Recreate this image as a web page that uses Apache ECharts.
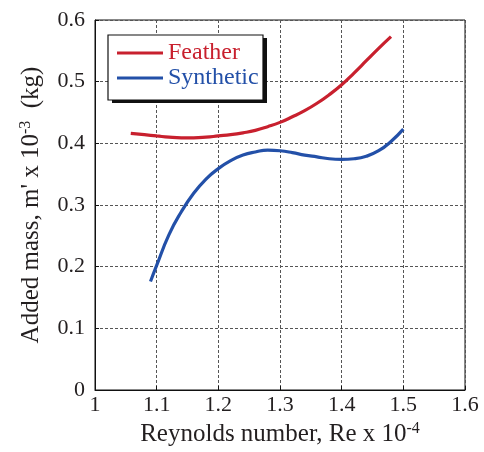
<!DOCTYPE html>
<html>
<head>
<meta charset="utf-8">
<script src="https://cdn.jsdelivr.net/npm/echarts@6/dist/echarts.min.js"></script>
<style>
  html, body { margin: 0; padding: 0; background: #fff; }
  #chart { width: 484px; height: 452px; }
</style>
</head>
<body>
<div id="chart"></div>
<script>
// Reynolds number (x 10^-4) vs added mass (x 10^-3 kg)
const featherRe   = [1.058, 1.08, 1.10, 1.12, 1.14, 1.16, 1.18, 1.20, 1.22, 1.24, 1.26,
                     1.28, 1.30, 1.32, 1.34, 1.36, 1.38, 1.40, 1.42, 1.44, 1.46, 1.48];
const featherMass = [0.416, 0.414, 0.412, 0.410, 0.409, 0.409, 0.410, 0.412, 0.414, 0.417, 0.421,
                     0.427, 0.434, 0.443, 0.453, 0.465, 0.479, 0.495, 0.514, 0.534, 0.554, 0.573];

const syntheticRe   = [1.09, 1.10, 1.12, 1.14, 1.16, 1.18, 1.20, 1.22, 1.24, 1.26, 1.28,
                       1.30, 1.32, 1.34, 1.36, 1.38, 1.40, 1.42, 1.44, 1.46, 1.48, 1.50];
const syntheticMass = [0.176, 0.202, 0.252, 0.289, 0.319, 0.342, 0.359, 0.372, 0.381, 0.386, 0.389,
                       0.388, 0.385, 0.381, 0.378, 0.375, 0.374, 0.375, 0.379, 0.388, 0.403, 0.423];

const xTicks = ['1', '1.1', '1.2', '1.3', '1.4', '1.5', '1.6'];
const yTicks = ['0', '0.1', '0.2', '0.3', '0.4', '0.5', '0.6'];

const FONT = 'Liberation Serif';
const INK = '#231f20';
const RED = '#c8202e';
const BLUE = '#2350a8';
const pairs = (xs, ys) => xs.map((x, i) => [x, ys[i]]);

const supStyle = { fontFamily: FONT, fontSize: 16, verticalAlign: 'top', padding: [0, 0, 11, 0], color: INK };
const gridLine = { show: true, lineStyle: { color: '#555', type: [3, 2], width: 1 } };

const chart = echarts.init(document.getElementById('chart'));
chart.setOption({
  animation: false,
  backgroundColor: '#fff',
  textStyle: { fontFamily: FONT, color: INK },
  grid: { left: 95, right: 19, top: 20, bottom: 60, show: true, borderColor: '#111', borderWidth: 1 },
  // legend frame with a solid drop shadow
  graphic: [
    { type: 'rect', z: 3, shape: { x: 112, y: 38, width: 155, height: 65 }, style: { fill: '#111' } },
    { type: 'rect', z: 4, shape: { x: 108, y: 35, width: 155, height: 65 },
      style: { fill: '#fff', stroke: '#111', lineWidth: 1.2 } }
  ],
  legend: {
    z: 10,
    orient: 'vertical',
    left: 117, top: 41,
    padding: 0,
    itemGap: 1,
    itemWidth: 46, itemHeight: 3,
    icon: 'rect',
    textStyle: { fontFamily: FONT, fontSize: 24, lineHeight: 24 },
    formatter: name => '{' + (name === 'Feather' ? 'f' : 's') + '|' + name + '}',
    data: ['Feather', 'Synthetic']
  },
  xAxis: {
    type: 'value', min: 1, max: 1.6, interval: 0.1,
    name: 'Reynolds number, Re x 10{sup|-4}',
    nameLocation: 'middle', nameGap: 31,
    nameTextStyle: { fontFamily: FONT, fontSize: 25, color: INK, rich: { sup: supStyle } },
    axisLine: { lineStyle: { color: '#111', width: 1 } },
    axisTick: { inside: true, length: 4, lineStyle: { color: '#111' } },
    axisLabel: {
      fontFamily: FONT, fontSize: 22, color: INK, margin: 4,
      formatter: v => xTicks[Math.round((v - 1) * 10)]
    },
    splitLine: gridLine
  },
  yAxis: {
    type: 'value', min: 0, max: 0.6, interval: 0.1,
    name: 'Added mass, m\' x 10{sup|-3}  (kg)',
    nameLocation: 'middle', nameGap: 50,
    nameTextStyle: { fontFamily: FONT, fontSize: 25, color: INK, rich: { sup: supStyle } },
    axisLine: { show: true, lineStyle: { color: '#111', width: 1 } },
    axisTick: { show: true, inside: true, length: 4, lineStyle: { color: '#111' } },
    axisLabel: {
      fontFamily: FONT, fontSize: 22, color: INK, margin: 10,
      formatter: v => yTicks[Math.round(v * 10)]
    },
    splitLine: gridLine
  },
  series: [
    {
      name: 'Feather', type: 'line', smooth: 0.5, showSymbol: false,
      data: pairs(featherRe, featherMass),
      itemStyle: { color: RED },
      lineStyle: { color: RED, width: 3.2 }
    },
    {
      name: 'Synthetic', type: 'line', smooth: 0.5, showSymbol: false,
      data: pairs(syntheticRe, syntheticMass),
      itemStyle: { color: BLUE },
      lineStyle: { color: BLUE, width: 3.2 }
    }
  ]
});
// legend labels take their series colour
chart.setOption({
  legend: {
    textStyle: {
      rich: {
        f: { fontFamily: FONT, fontSize: 24, lineHeight: 24, color: RED },
        s: { fontFamily: FONT, fontSize: 24, lineHeight: 24, color: BLUE }
      }
    }
  }
});
</script>
</body>
</html>
